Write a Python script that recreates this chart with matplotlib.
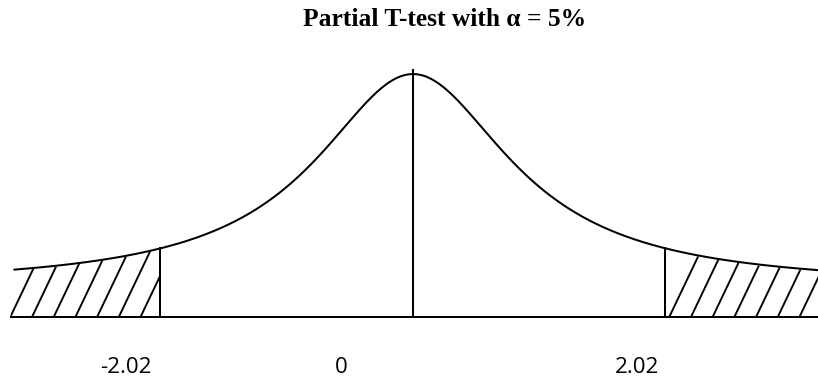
import math
import numpy as np
import matplotlib
matplotlib.use("Agg")
import matplotlib.pyplot as plt
from matplotlib.patches import Polygon

# ---------------- data ----------------
TITLE = "Partial T-test with \u03b1 = 5%"
CRIT = 2.02                      # critical t value
TICK_VALUES = [-2.02, 0, 2.02]
TICK_LABELS = ["-2.02", "0", "2.02"]
DF = 1                           # shape of the drawn t curve
T_SCALE = 0.952                  # scale of the drawn curve
FLOOR = 0.047                    # curve lifted above the baseline
X_RANGE = [-3.19, 3.35]          # extent of the drawn curve / baseline

# ---------------- layout ----------------
W, H, DPI = 818, 378, 100
CENTER_PX = 413
PX_PER_X = 125.0
BASE_PX = 317                     # baseline, pixels from top
LABEL_POS = [-2.296, -0.576, 1.792]   # where the reference puts the labels
LW = 1.45


def tpdf(u, df, s):
    z = u / s
    c = math.gamma((df + 1) / 2) / (math.sqrt(df * math.pi) * math.gamma(df / 2)) / s
    return c * (1 + z ** 2 / df) ** (-(df + 1) / 2)


peak_pdf = tpdf(0.0, DF, T_SCALE)
PX_PER_Y = 213.0 / peak_pdf

fig = plt.figure(figsize=(W / DPI, H / DPI), dpi=DPI)
ax = fig.add_axes([0, 0, 1, 1])
ax.axis("off")
ax.set_xlim(-CENTER_PX / PX_PER_X, (W - CENTER_PX) / PX_PER_X)
ax.set_ylim(-(H - BASE_PX) / PX_PER_Y, BASE_PX / PX_PER_Y)

x = np.linspace(X_RANGE[0], X_RANGE[1], 1200)
y = FLOOR + tpdf(x, DF, T_SCALE)

def curve_at(v):
    return FLOOR + tpdf(v, DF, T_SCALE)

# curve
ax.plot(x, y, color="black", lw=LW, solid_capstyle="round")
# baseline
ax.plot([X_RANGE[0] - 0.03, X_RANGE[1]], [0, 0], color="black", lw=LW)

# vertical lines
for v in TICK_VALUES:
    top = curve_at(v)
    if v == 0:
        top += 4 / PX_PER_Y
    ax.plot([v, v], [0, top], color="black", lw=LW)

# hatched tails
gap = 1.0 / PX_PER_Y
spacing = 21.7 / PX_PER_X
dxdy = (21.0 / PX_PER_X) / (44.0 / PX_PER_Y)
hy = 0.16

def tail_poly(x0, x1):
    xs = np.linspace(x0, x1, 200)
    ys = curve_at(xs) - gap
    pts = [(x0, 0)] + list(zip(xs, ys)) + [(x1, 0)]
    return Polygon(pts, closed=True, facecolor="none", edgecolor="none")

left = tail_poly(X_RANGE[0] - 0.03, -CRIT)
right = tail_poly(CRIT, X_RANGE[1])
ax.add_patch(left)
ax.add_patch(right)

for i in range(7):
    xb = -CRIT - 0.16 - i * spacing
    ln, = ax.plot([xb, xb + dxdy * hy], [0, hy], color="black", lw=LW * 0.95)
    ln.set_clip_path(left)
for i in range(10):
    xb = CRIT + 0.03 + i * spacing
    ln, = ax.plot([xb, xb + dxdy * hy], [0, hy], color="black", lw=LW * 0.95)
    ln.set_clip_path(right)

# labels
label_y = -(373 - BASE_PX) / PX_PER_Y
for pos, lab in zip(LABEL_POS, TICK_LABELS):
    ax.text(pos, label_y, lab, ha="center", va="baseline",
            family=["Open Sans", "DejaVu Sans"], fontsize=16.1, color="black")

# title
fig.text(445 / W, 1 - 26 / H, TITLE, ha="center", va="baseline",
         family=["Liberation Serif", "DejaVu Serif"], weight="bold",
         fontsize=18.4, color="black")

fig.savefig("out.png", dpi=DPI, facecolor="white")
